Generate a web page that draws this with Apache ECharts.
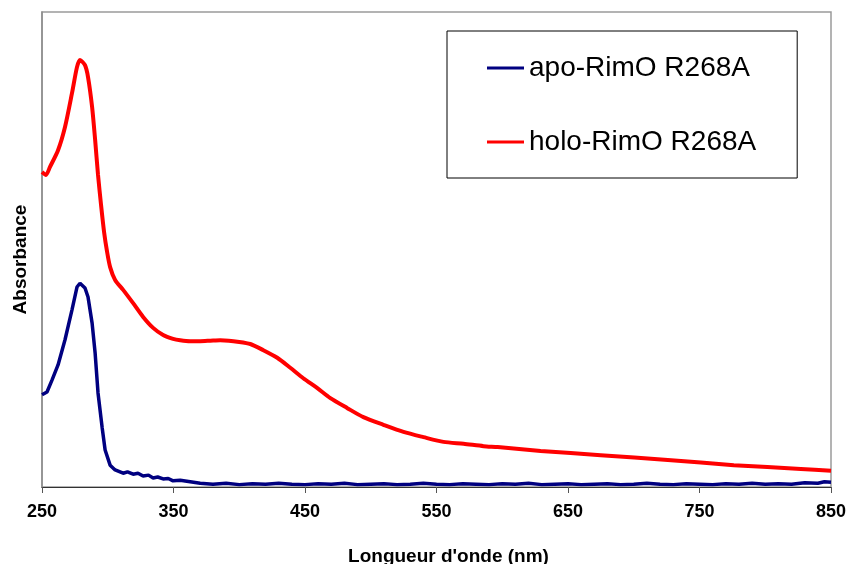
<!DOCTYPE html>
<html>
<head>
<meta charset="utf-8">
<script src="https://cdn.jsdelivr.net/npm/echarts@6/dist/echarts.min.js"></script>
<style>html,body{margin:0;padding:0;background:#fff;}#c{width:847px;height:564px;}</style>
</head>
<body>
<div id="c"></div>
<script>
// Wavelengths (nm) and absorbance (arbitrary units)
const xTicks = [250, 350, 450, 550, 650, 750, 850];

const holoWave = [250,253,256.1,262.2,267.5,272.8,276.6,278.9,282.7,285,288.1,290.4,292.6,294.9,297.2,299.5,301.8,305.6,311.7,319.3,326.9,334.5,342.1,349.7,355.1,362.7,370.3,378,385.5,392,398.5,408.4,418.3,428.9,438.8,448.7,459.4,469.3,482.2,494.4,509.6,524.9,540.1,555.3,570.6,585.8,596.5,629.2,674.9,725.9,776.1,827.1,850];
const holoAbs = [.663,.657,.674,.709,.758,.829,.884,.899,.888,.863,.800,.731,.657,.594,.537,.495,.463,.436,.415,.387,.358,.335,.320,.312,.309,.307,.307,.308,.309,.308,.306,.301,.288,.272,.251,.229,.208,.187,.166,.147,.131,.116,.105,.095,.091,.086,.084,.076,.067,.057,.046,.038,.034];

const apoWave = [250,253.8,257.6,262.2,267.5,272.8,276.6,278.9,282.7,285,288.1,290.4,292.6,295.7,298,301.8,305.6,311.7,315,319.3,323,326.9,331,334.5,338,342.1,346,349.7,355.1,362.7,370.3,380,390,400,410,420,430,440,450,460,470,480,490,500,510,520,530,540,550,560,570,580,590,600,610,620,630,640,650,660,670,680,690,700,710,720,730,740,750,760,770,780,790,800,810,820,830,840,845,850];
const apoAbs = [.194,.200,.225,.257,.310,.373,.421,.429,.419,.400,.345,.282,.198,.126,.078,.046,.036,.029,.032,.027,.029,.023,.025,.019,.021,.017,.018,.013,.014,.011,.008,.006,.008,.005,.007,.006,.008,.006,.005,.007,.006,.008,.005,.006,.007,.005,.006,.008,.006,.005,.007,.006,.005,.007,.006,.008,.005,.006,.007,.005,.006,.007,.005,.006,.008,.006,.005,.007,.006,.005,.007,.006,.008,.006,.007,.006,.009,.008,.011,.010];

const seriesNames = ['apo-RimO R268A', 'holo-RimO R268A'];
const xTitle = "Longueur d'onde (nm)";
const yTitle = 'Absorbance';

const zip = (a, b) => a.map((v, i) => [v, b[i]]);

const chart = echarts.init(document.getElementById('c'), null, {renderer: 'canvas'});
chart.setOption({
  animation: false,
  backgroundColor: '#ffffff',
  grid: {left: 42, right: 16, top: 12, bottom: 77, show: true, borderColor: '#9a9a9a', borderWidth: 1.5,
    containLabel: false, outerBoundsMode: 'none'},
  legend: {
    orient: 'vertical',
    left: 447, top: 31,
    padding: [23, 41, 22, 40],
    itemGap: 46,
    itemWidth: 37, itemHeight: 3,
    icon: 'rect',
    borderColor: '#000', borderWidth: 1,
    textStyle: {fontFamily: 'Liberation Sans, Arial, sans-serif', fontSize: 28, color: '#000'},
    data: seriesNames
  },
  xAxis: {
    type: 'value', min: 250, max: 850, interval: 100,
    name: xTitle, nameLocation: 'middle', nameGap: 60,
    nameTextStyle: {fontFamily: 'Liberation Sans, Arial, sans-serif', fontSize: 19, fontWeight: 'bold', color: '#000', padding: [0, 0, 0, 24]},
    axisLine: {show: true, lineStyle: {color: '#333', width: 1}},
    axisTick: {show: true, inside: false, length: 6, lineStyle: {color: '#555'}},
    axisLabel: {fontFamily: 'Liberation Sans, Arial, sans-serif', fontSize: 18, fontWeight: 'bold', color: '#000', margin: 16,
      customValues: xTicks},
    splitLine: {show: false}
  },
  yAxis: {
    type: 'value', min: 0, max: 1,
    name: yTitle, nameLocation: 'middle', nameGap: 12, nameRotate: 90,
    nameTextStyle: {fontFamily: 'Liberation Sans, Arial, sans-serif', fontSize: 19, fontWeight: 'bold', color: '#000', padding: [0, 20, 0, 0]},
    axisLine: {show: true, lineStyle: {color: '#8c8c8c', width: 1.5}},
    axisTick: {show: false},
    axisLabel: {show: false},
    splitLine: {show: false}
  },
  series: [
    {name: seriesNames[0], type: 'line', data: zip(apoWave, apoAbs), showSymbol: false, symbol: 'none',
      color: '#000080', lineStyle: {color: '#000080', width: 3.5}, smooth: false, z: 3},
    {name: seriesNames[1], type: 'line', data: zip(holoWave, holoAbs), showSymbol: false, symbol: 'none',
      color: '#ff0000', lineStyle: {color: '#ff0000', width: 4}, smooth: 0.25, z: 2}
  ]
});
</script>
</body>
</html>
